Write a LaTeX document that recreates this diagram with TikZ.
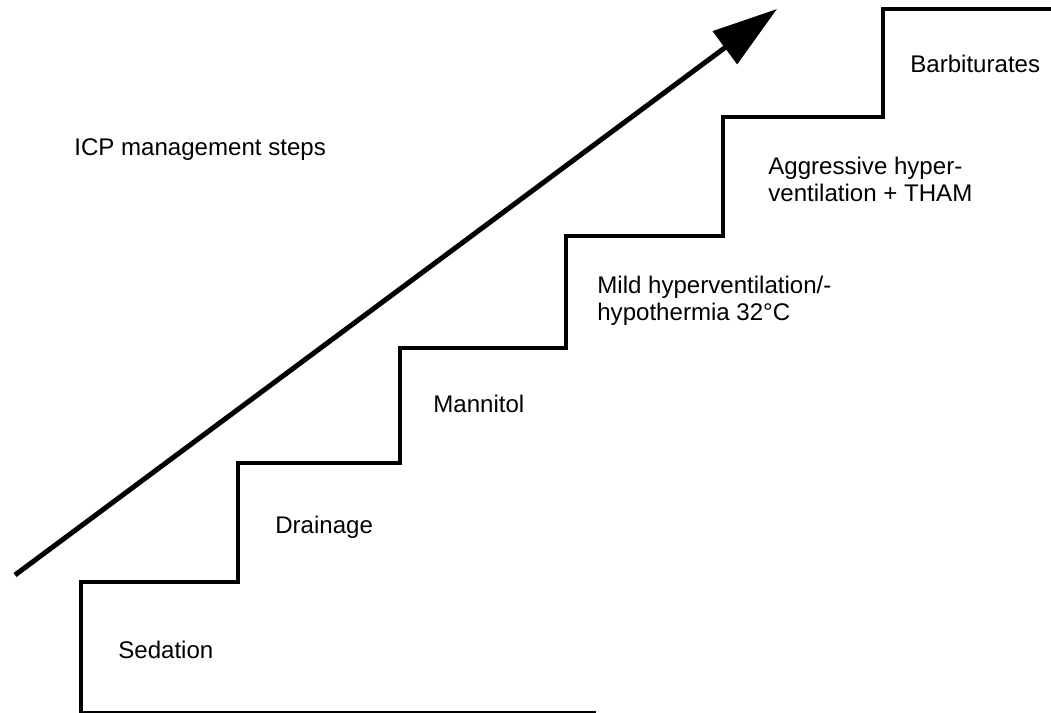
\documentclass[tikz,border=0pt]{standalone}
\usepackage{fontspec}
\setmainfont{Liberation Sans}
\usetikzlibrary{positioning,arrows.meta}

\tikzset{
  stair/.style={line width=0.07cm, line join=miter},
  rise/.style={line width=0.1cm, -{Triangle[length=1.3cm, width=0.8cm]}},
  steplabel/.style={anchor=base west, inner sep=0pt, align=left,
    font=\fontsize{13.7}{14.8}\selectfont}
}

\begin{document}
\begin{tikzpicture}[x=0.02cm, y=-0.02cm]
			\useasboundingbox (0,0) rectangle (1051,713);
			% staircase
			\draw[stair] (596,713) -- (81,713) -- (81,582) -- (238,582) -- (238,463)
				-- (400,463) -- (400,348) -- (566,348) -- (566,236) -- (723,236)
				-- (723,117) -- (883,117) -- (883,9) -- (1051,9);
			% rising arrow
			\coordinate (tail) at (15,575);
			\coordinate (tip) at (777,9);
			\draw[rise] (tail) -- (tip);
			\node [steplabel] (title) at (74,155) {ICP management steps};
			\node [steplabel] (sedation) at (118,658) {Sedation};
			\node [steplabel] (drainage) at (275,533) {Drainage};
			\node [steplabel] (mannitol) at (433,412) {Mannitol};
			\node [steplabel] (mild) at (597,320) {Mild hyperventilation/-\\hypothermia 32°C};
			\node [steplabel] (aggressive) at (768,201) {Aggressive hyper-\\ventilation + THAM};
			\node [steplabel] (barbiturates) at (910,72) {Barbiturates};
		\end{tikzpicture}
\end{document}
